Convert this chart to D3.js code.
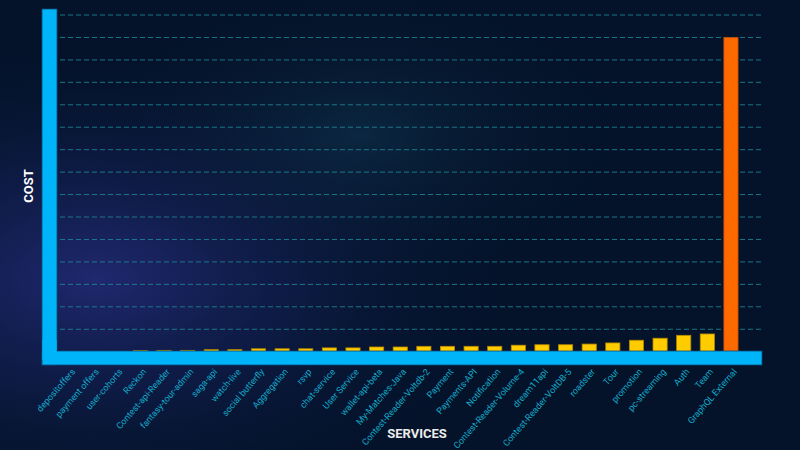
<!DOCTYPE html>
<html><head><meta charset="utf-8">
<script src="https://cdn.jsdelivr.net/npm/d3@7"></script>
<style>html,body{margin:0;padding:0;background:#04132a;overflow:hidden}</style>
</head><body>
<svg id="chart" width="800" height="450"></svg>
<script>
const categories = ["depositoffers","payment offers","user-cohorts","Reckon","Contest-api-Reader","fantasy-tour-admin","saga-api","watch-live","social butterfly","Aggregation","rsvp","chat-service","User Service","wallet-api-beta","My-Matches-Java","Contest-Reader-Voltdb-2","Payment","Payments-API","Notification","Contest-Reader-Volume-4","dream11api","Contest-Reader-VoltDB-5","roadster","Tour","promotion","pc-streaming","Auth","Team","GraphQL External"];
const costs = [0.01,0.01,0.01,0.05,0.06,0.06,0.09,0.09,0.13,0.13,0.13,0.17,0.17,0.21,0.21,0.24,0.24,0.24,0.24,0.29,0.31,0.31,0.34,0.39,0.51,0.6,0.73,0.79,14.0];
const yTicks = [1,2,3,4,5,6,7,8,9,10,11,12,13,14,15];
const highlight = "GraphQL External";

const svg = d3.select("#chart");
const W = 800, H = 450;
const defs = svg.append("defs");
const g1 = defs.append("radialGradient").attr("id","glow1").attr("cx","0.12").attr("cy","0.62").attr("r","0.55");
g1.append("stop").attr("offset","0").attr("stop-color","#2a2f86").attr("stop-opacity",0.75);
g1.append("stop").attr("offset","0.5").attr("stop-color","#1a2466").attr("stop-opacity",0.35);
g1.append("stop").attr("offset","1").attr("stop-color","#04132a").attr("stop-opacity",0);
const g2 = defs.append("radialGradient").attr("id","glow2").attr("cx","0.45").attr("cy","0.3").attr("r","0.35");
g2.append("stop").attr("offset","0").attr("stop-color","#123a55").attr("stop-opacity",0.5);
g2.append("stop").attr("offset","1").attr("stop-color","#04132a").attr("stop-opacity",0);
svg.append("rect").attr("width",W).attr("height",H).attr("fill","#04132a");
svg.append("rect").attr("width",W).attr("height",H).attr("fill","url(#glow1)");
svg.append("rect").attr("width",W).attr("height",H).attr("fill","url(#glow2)");

const x = d3.scaleBand().domain(categories).range([53, 747.5]).paddingInner(0.4).paddingOuter(0.4);
const y = d3.scaleLinear().domain([0, 15]).range([351.7, 15]);

// gridlines
svg.append("g").selectAll("line").data(yTicks).join("line")
  .attr("x1", 60).attr("x2", 762)
  .attr("y1", d => y(d)).attr("y2", d => y(d))
  .attr("stroke", "#1d8896").attr("stroke-width", 1)
  .attr("stroke-dasharray", "5,3").attr("opacity", 0.85);

// bars
svg.append("g").selectAll("rect").data(categories).join("rect")
  .attr("x", d => x(d)).attr("width", x.bandwidth())
  .attr("y", (d,i) => y(costs[i])).attr("height", (d,i) => y(0) - y(costs[i]) + 2)
  .attr("fill", d => d === highlight ? "#ff6a00" : "#ffcc00")
  .attr("stroke", d => d === highlight ? "#c04a00" : "#b48a00")
  .attr("stroke-width", 0.8);

// axis bars
svg.append("rect").attr("x", 42).attr("y", 9).attr("width", 15).attr("height", 356)
  .attr("fill", "#00b4fa").attr("stroke", "#0a4a78").attr("stroke-width", 0.8);
svg.append("rect").attr("x", 42).attr("y", 351).attr("width", 720).attr("height", 14)
  .attr("fill", "#00b4fa").attr("stroke", "#0a4a78").attr("stroke-width", 0.8);
svg.append("rect").attr("x", 42.4).attr("y", 340).attr("width", 14.2).attr("height", 20).attr("fill", "#00b4fa");

// x labels
const xAxis = d3.axisBottom(x).tickSize(0).tickPadding(0);
const xg = svg.append("g").attr("transform", "translate(0,367)").call(xAxis);
xg.select(".domain").remove();
xg.selectAll("text")
  .attr("fill", "#12abcb")
  .style("font-family", "Roboto, 'Open Sans', sans-serif")
  .style("font-size", "9px")
  .attr("text-anchor", "end")
  .attr("dy", "0.35em")
  .attr("transform", "translate(4,3) rotate(-49)");

// axis titles
svg.append("text").attr("x", 417).attr("y", 438).attr("text-anchor", "middle")
  .attr("fill", "#ececec").style("font-family", "Roboto, sans-serif")
  .style("font-weight", "bold").style("font-size", "13px").text("SERVICES");
svg.append("text").attr("transform", "translate(33,186) rotate(-90)").attr("text-anchor", "middle")
  .attr("fill", "#ffffff").style("font-family", "Roboto, sans-serif")
  .style("font-weight", "bold").style("font-size", "13px").text("COST");
</script>
</body></html>
